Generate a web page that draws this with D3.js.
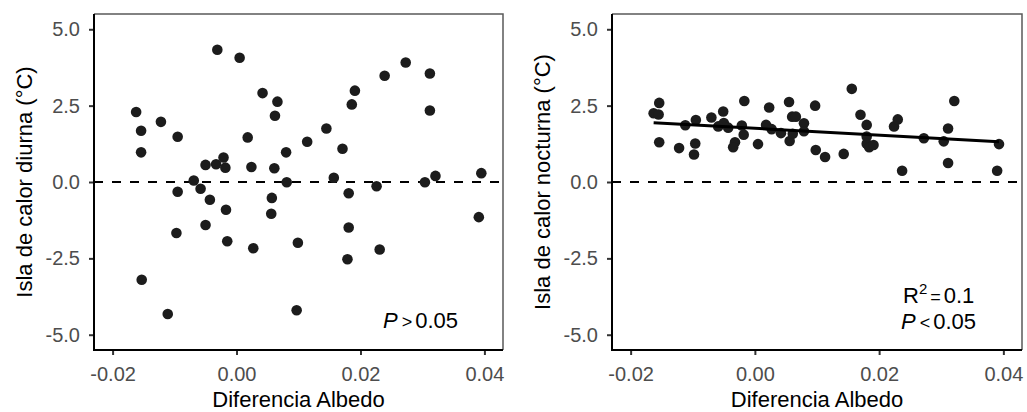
<!DOCTYPE html>
<html>
<head>
<meta charset="utf-8">
<script src="https://cdn.jsdelivr.net/npm/d3@7"></script>
<style>
  body { margin: 0; background: #fff; }
  svg { display: block; font-family: "Liberation Sans", Arial, sans-serif; }
</style>
</head>
<body>
<div class="chart"></div>
<script>
// diurnal panel: albedo difference vs heat island (day)
var dayX = [-0.0162, -0.0154, -0.0154, -0.0122, -0.0095, -0.0031, 0.0005, -0.0069, -0.0058, -0.0095,
    -0.0050, -0.0033, -0.0021, -0.0018, 0.0018, 0.0024, 0.0042, 0.0066, 0.0062, 0.0061,
    0.0080, 0.0081, 0.0114, 0.0145, 0.0171, 0.0157, 0.0186, 0.0191, 0.0181, 0.0226,
    0.0239, 0.0273, 0.0312, 0.0312, 0.0304, 0.0321, 0.0395, 0.0057, -0.0043, -0.0017,
    0.0056, -0.0097, -0.0050, -0.0015, 0.0027, 0.0099, 0.0181, 0.0179, 0.0231, 0.0391,
    -0.0153, -0.0111, 0.0097];
var dayY = [2.29, 1.68, 0.97, 1.97, 1.48, 4.33, 4.07, 0.05, -0.22, -0.32,
    0.56, 0.58, 0.80, 0.47, 1.46, 0.49, 2.91, 2.63, 2.17, 0.45,
    0.97, -0.01, 1.32, 1.75, 1.09, 0.14, 2.54, 2.99, -0.37, -0.14,
    3.48, 3.91, 3.55, 2.34, -0.01, 0.20, 0.29, -0.52, -0.58, -0.91,
    -1.04, -1.67, -1.41, -1.94, -2.17, -1.99, -1.49, -2.53, -2.21, -1.15,
    -3.20, -4.32, -4.20];

// nocturnal panel
var nightX = [-0.0163, -0.0154, -0.0155, -0.0154, -0.0112, -0.0122, -0.0095, -0.0096, -0.0098, -0.0070,
    -0.0051, -0.0050, -0.0059, -0.0043, -0.0032, -0.0035, -0.0017, -0.0021, -0.0018, 0.0005,
    0.0018, 0.0023, 0.0027, 0.0042, 0.0055, 0.0060, 0.0066, 0.0056, 0.0061, 0.0079,
    0.0079, 0.0097, 0.0098, 0.0113, 0.0143, 0.0156, 0.0170, 0.0180, 0.0180, 0.0180,
    0.0184, 0.0191, 0.0224, 0.0230, 0.0237, 0.0272, 0.0304, 0.0311, 0.0311, 0.0321,
    0.0393, 0.0390];
var nightY = [2.25, 2.59, 2.21, 1.30, 1.86, 1.11, 2.03, 1.26, 0.90, 2.11,
    2.31, 1.93, 1.82, 1.78, 1.30, 1.14, 2.65, 1.85, 1.55, 1.24,
    1.87, 2.44, 1.73, 1.60, 2.62, 2.14, 2.14, 1.34, 1.58, 1.92,
    1.66, 2.50, 1.05, 0.82, 0.92, 3.05, 2.20, 1.87, 1.49, 1.25,
    1.14, 1.21, 1.82, 2.05, 0.37, 1.43, 1.33, 1.75, 0.62, 2.65,
    1.24, 0.37];

var xTicks = [-0.02, 0, 0.02, 0.04];
var yTicks = [-5, -2.5, 0, 2.5, 5];
var xTitle = "Diferencia Albedo";
var yTitles = ["Isla de calor diurna (°C)", "Isla de calor nocturna (°C)"];

var width = 1027, height = 412;
var panelTop = 14, panelBottom = 350;

var svg = d3.select(".chart").append("svg")
    .attr("width", width)
    .attr("height", height);

var fmtX = function (d) { return d3.format(".2f")(d).replace("\u2212", "-"); };
var fmtY = function (d) { return d3.format(".1f")(d).replace("\u2212", "-"); };

// least squares fit, like geom_smooth(method = "lm")
function linFit(xs, ys) {
    var mx = d3.mean(xs), my = d3.mean(ys);
    var sxy = d3.sum(xs, function (d, i) { return (d - mx) * (ys[i] - my); });
    var sxx = d3.sum(xs, function (d) { return (d - mx) * (d - mx); });
    var b = sxy / sxx;
    return { a: my - b * mx, b: b };
}

function drawPanel(left, right, xs, ys, yTitle, withFit) {
    var x = d3.scaleLinear().domain([-0.023, 0.043]).range([left, right]);
    var y = d3.scaleLinear().domain([-5.5, 5.5]).range([panelBottom, panelTop]);
    var g = svg.append("g");

    // zero reference
    g.append("line")
        .attr("x1", left).attr("x2", right)
        .attr("y1", y(0)).attr("y2", y(0))
        .attr("stroke", "#000")
        .attr("stroke-width", 2)
        .attr("stroke-dasharray", "9,9");

    g.append("g").selectAll("circle")
        .data(xs)
        .enter()
        .append("circle")
        .attr("cx", function (d) { return x(d); })
        .attr("cy", function (d, i) { return y(ys[i]); })
        .attr("r", 5.3)
        .attr("fill", "#1c1c1c");

    if (withFit) {
        var fit = linFit(xs, ys);
        var ext = d3.extent(xs);
        g.append("line")
            .attr("x1", x(ext[0])).attr("y1", y(fit.a + fit.b * ext[0]))
            .attr("x2", x(ext[1])).attr("y2", y(fit.a + fit.b * ext[1]))
            .attr("stroke", "#000")
            .attr("stroke-width", 3);
    }

    // thin frame on top and right
    g.append("path")
        .attr("d", "M" + left + "," + panelTop + "H" + right + "V" + panelBottom)
        .attr("fill", "none")
        .attr("stroke", "#5a5a5a")
        .attr("stroke-width", 1.5);

    var ax = g.append("g")
        .attr("transform", "translate(0," + panelBottom + ")")
        .call(d3.axisBottom(x).tickValues(xTicks).tickFormat(fmtX).tickSize(5).tickPadding(12));
    var ay = g.append("g")
        .attr("transform", "translate(" + left + ",0)")
        .call(d3.axisLeft(y).tickValues(yTicks).tickFormat(fmtY).tickSize(5).tickPadding(9));

    [ax, ay].forEach(function (a) {
        a.select(".domain").remove();
        a.selectAll(".tick line").attr("stroke", "#333").attr("stroke-width", 2);
        a.selectAll(".tick text")
            .attr("fill", "#4d4d4d")
            .style("font-size", "20px")
            .style("font-family", "Liberation Sans, Arial, sans-serif");
    });

    // axis lines
    g.append("path")
        .attr("d", "M" + left + "," + panelTop + "V" + panelBottom + "H" + right)
        .attr("fill", "none")
        .attr("stroke", "#000")
        .attr("stroke-width", 2);

    g.append("text")
        .attr("x", (left + right) / 2)
        .attr("y", 407)
        .attr("text-anchor", "middle")
        .style("font-size", "22px")
        .text(xTitle);

    g.append("text")
        .attr("transform", "translate(" + (left - 62) + "," + ((panelTop + panelBottom) / 2) + ") rotate(-90)")
        .attr("text-anchor", "middle")
        .style("font-size", "22px")
        .text(yTitle);

    return { x: x, y: y, g: g };
}

var p1 = drawPanel(94, 503, dayX, dayY, yTitles[0], false);
var p2 = drawPanel(612, 1022, nightX, nightY, yTitles[1], true);

// annotations
var t1 = p1.g.append("text").attr("x", 383).attr("y", 328).style("font-size", "22px");
t1.append("tspan").style("font-style", "italic").text("P");
t1.append("tspan").attr("dx", 4).style("font-size", "18px").text(">");
t1.append("tspan").attr("dx", 3).text("0.05");

var t2 = p2.g.append("text").attr("x", 903).attr("y", 303).style("font-size", "22px");
t2.append("tspan").text("R");
t2.append("tspan").attr("dy", -9).style("font-size", "15px").text("2");
t2.append("tspan").attr("dy", 9).attr("dx", 3).style("font-size", "18px").text("=");
t2.append("tspan").attr("dx", 3).text("0.1");

var t3 = p2.g.append("text").attr("x", 901).attr("y", 329).style("font-size", "22px");
t3.append("tspan").style("font-style", "italic").text("P");
t3.append("tspan").attr("dx", 4).style("font-size", "18px").text("<");
t3.append("tspan").attr("dx", 3).text("0.05");
</script>
</body>
</html>
